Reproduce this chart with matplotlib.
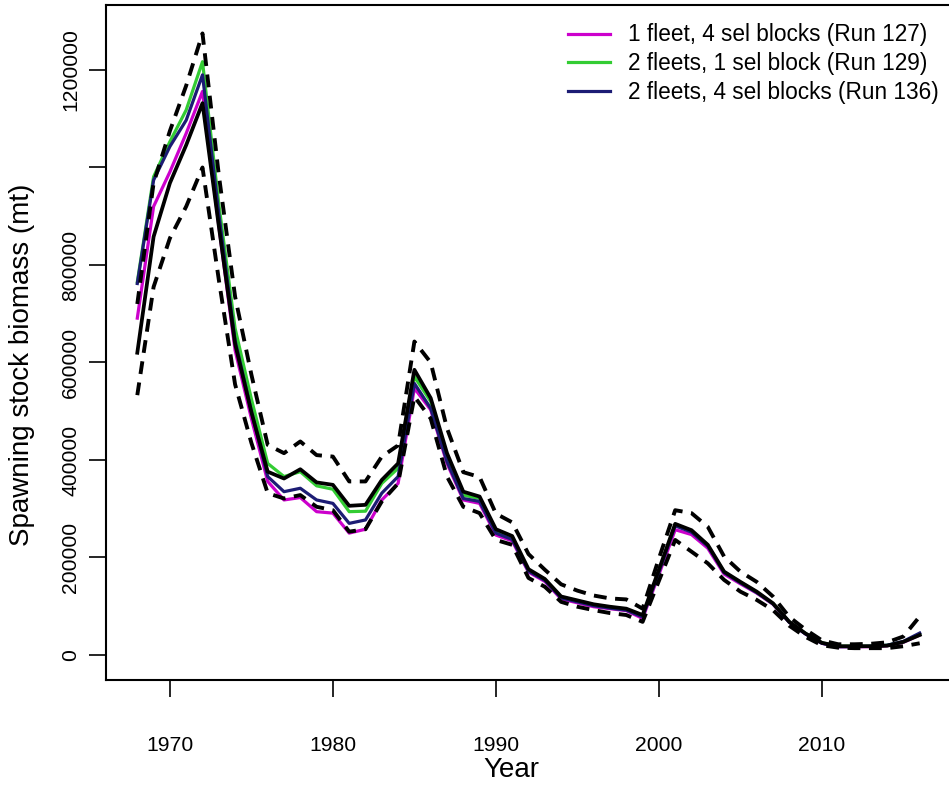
import matplotlib
matplotlib.use("Agg")
import matplotlib.pyplot as plt
from matplotlib.lines import Line2D

years = list(range(1968, 2017))

base = [620, 858, 968, 1046, 1132, 880, 638, 498, 376, 362, 381, 354, 349, 306, 308, 359, 393,
        585, 527, 414, 335, 325, 258, 244, 176, 156, 120, 112, 104, 99, 95, 82, 175, 269, 256,
        226, 171, 150, 130, 106, 68, 44, 25, 18, 18, 18, 19, 27, 41]
upper = [720, 968, 1075, 1168, 1275, 985, 735, 575, 431, 414, 438, 410, 407, 356, 356, 407, 430,
         643, 600, 465, 375, 365, 290, 272, 207, 175, 145, 132, 122, 116, 114, 95, 198, 297, 291,
         263, 202, 171, 150, 120, 78, 52, 30, 22, 22, 23, 26, 38, 79]
lower = [533, 755, 855, 920, 1000, 770, 555, 435, 332, 321, 328, 304, 297, 253, 258, 315, 352,
         530, 485, 366, 304, 291, 236, 226, 158, 140, 109, 99, 92, 86, 82, 68, 152, 236, 212,
         188, 154, 130, 113, 92, 60, 37, 20, 15, 14, 14, 14, 18, 24]
run127 = [691, 920, 991, 1070, 1156, 880, 625, 485, 356, 318, 323, 294, 291, 250, 258, 318, 352,
          547, 503, 393, 318, 311, 246, 234, 170, 151, 115, 107, 99, 95, 91, 75, 165, 257, 247,
          219, 166, 146, 127, 104, 67, 43, 24, 17, 17, 17, 19, 26, 41]
run129 = [765, 981, 1053, 1118, 1217, 925, 670, 525, 393, 366, 376, 347, 340, 294, 295, 352, 383,
          571, 520, 407, 328, 321, 253, 240, 174, 155, 119, 111, 103, 98, 94, 80, 172, 268, 254,
          225, 170, 149, 129, 105, 68, 44, 25, 18, 18, 18, 20, 27, 42]
run136 = [762, 974, 1043, 1097, 1190, 905, 645, 500, 366, 335, 342, 318, 311, 270, 277, 332, 366,
          557, 506, 397, 321, 315, 250, 237, 172, 153, 117, 109, 101, 96, 92, 78, 170, 265, 252,
          223, 169, 148, 128, 105, 67, 43, 24, 17, 17, 18, 20, 28, 45]

series_labels = ["1 fleet, 4 sel blocks (Run 127)",
                 "2 fleets, 1 sel block (Run 129)",
                 "2 fleets, 4 sel blocks (Run 136)"]
series_colors = ["#CC00CC", "#33CC33", "#1C1C74"]

xticks = [1970, 1980, 1990, 2000, 2010]
yticks = [0, 200000, 400000, 600000, 800000, 1000000, 1200000]
ytick_labels = ["0", "200000", "400000", "600000", "800000", "", "1200000"]

def scale(v):
    return [x * 1000 for x in v]

plt.rcParams['font.family'] = ['Liberation Sans', 'DejaVu Sans']

W, H = 949, 787
fig = plt.figure(figsize=(W / 100, H / 100), dpi=100)
ax = fig.add_axes([106 / W, 1 - 680 / H, (951 - 106) / W, (680 - 5) / H])

for vals, col in zip([run127, run129, run136], series_colors):
    ax.plot(years, scale(vals), color=col, lw=2.3, solid_joinstyle='round', zorder=2)
ax.plot(years, scale(base), color='black', lw=2.7, zorder=3)
for vals in [upper, lower]:
    ax.plot(years, scale(vals), color='black', lw=2.8, ls=(0, (3.3, 2.2)), zorder=4)

ax.set_xlim(1966.08, 2017.92)
ax.set_ylim(-51300, 1333300)
ax.set_xticks(xticks)
ax.set_xticklabels([str(t) for t in xticks])
ax.set_yticks(yticks)
ax.set_yticklabels(ytick_labels)

for s in ax.spines.values():
    s.set_linewidth(1.5)
ax.spines['right'].set_visible(False)

ax.tick_params(axis='x', length=12.5, width=1.2, labelsize=15.2, pad=28)
ax.tick_params(axis='y', length=12.5, width=1.2, labelsize=15.2, pad=6, labelrotation=90)
for lab in ax.get_yticklabels():
    lab.set_va('center')

fig.text(511 / W, 1 - 770 / H, "Year", fontsize=20, ha='center', va='center')
fig.text(22 / W, 1 - 365 / H, "Spawning stock biomass (mt)", fontsize=20,
         rotation=90, ha='center', va='center')

handles = [Line2D([0], [0], color=c, lw=2.3) for c in series_colors]
ax.legend(handles, series_labels, loc='upper left', bbox_to_anchor=(568 / W, 1 - 23.5 / H),
          bbox_transform=fig.transFigure, frameon=False, borderpad=0, borderaxespad=0,
          fontsize=16.3, handlelength=1.86, handletextpad=0.8, labelspacing=0.25)

fig.savefig("out.png", dpi=100)
